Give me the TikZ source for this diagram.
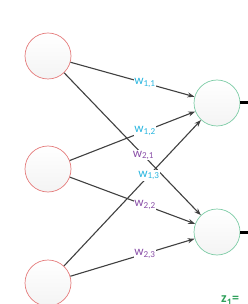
\documentclass[tikz,border=0pt]{standalone}
\usepackage{fontspec}
\setmainfont{Carlito}
\usepackage{xcolor}
\usepackage{tikz}
\usetikzlibrary{positioning, arrows.meta}

\definecolor{inred}{HTML}{E57C7C}
\definecolor{outgreen}{HTML}{7DCCA6}
\definecolor{wblue}{HTML}{29B6E0}
\definecolor{wpurple}{HTML}{8A4FA8}
\definecolor{zgreen}{HTML}{2EA05A}
\definecolor{edgegray}{HTML}{404040}

\begin{document}
\begin{tikzpicture}[
    x=1pt, y=-1pt,
    neuron/.style={circle, minimum size=46pt, inner sep=0pt, line width=0.7pt, top color=white, bottom color=gray!9},
    innode/.style={neuron, draw=inred},
    outnode/.style={neuron, draw=outgreen},
    syn/.style={draw=edgegray, line width=1.1pt, -{Stealth[length=7pt, width=5pt]}},
    wlabel/.style={fill=white, inner sep=0.5pt, font=\fontsize{13}{14}\selectfont},
    wa/.style={wlabel, text=wblue},
    wb/.style={wlabel, text=wpurple}
]
\useasboundingbox (0,0) rectangle (247,304);

\node[innode] (x1) at (48,56) {};
\node[innode] (x2) at (48,169) {};
\node[innode] (x3) at (48,283) {};
\node[outnode] (y1) at (217,103) {};
\node[outnode] (y2) at (217,232) {};

\coordinate (o1) at (250,103);
\coordinate (o2) at (250,232);

% weights into the first output
\draw[syn] (x1) -- node[wa, pos=0.6] {w\textsubscript{1,1}} (y1);
\draw[syn] (x2) -- node[wa, pos=0.6] {w\textsubscript{1,2}} (y1);
\draw[syn] (x1) -- node[wb, pos=0.58] {w\textsubscript{2,1}} (y2);
\draw[syn] (x3) -- node[wa, pos=0.62] {w\textsubscript{1,3}} (y1);
\draw[syn] (x2) -- node[wb, pos=0.6] {w\textsubscript{2,2}} (y2);
\draw[syn] (x3) -- node[wb, pos=0.6] {w\textsubscript{2,3}} (y2);

\draw[line width=3pt] (y1) -- (o1);
\draw[line width=3pt] (y2) -- (o2);

\node[anchor=north west, inner sep=0pt, text=zgreen, font=\bfseries\fontsize{14}{15}\selectfont] (z1) at (221,296) {z\textsubscript{1}=};
\end{tikzpicture}
\end{document}
